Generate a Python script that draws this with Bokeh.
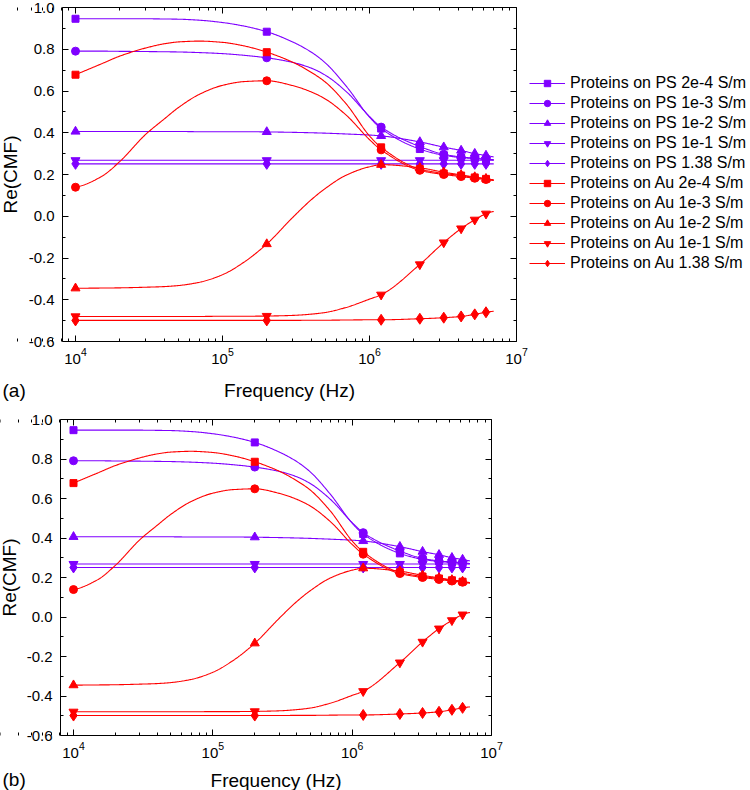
import numpy as np
from bokeh.plotting import figure
from bokeh.models import (LogAxis, LinearAxis, FixedTicker, PrintfTickFormatter,
                          CustomJSTickFormatter, Legend, LegendItem, Label, Range1d)
from bokeh.embed import file_html
from bokeh.resources import INLINE

# ---------------- data ----------------
line_freq = [1e4, 1.5e4, 2e4, 3e4, 4e4, 5e4, 7e4, 1e5, 1.4e5, 2e5, 3e5, 4e5, 5e5,
             7e5, 1e6, 1.2e6, 2.2e6, 3.2e6, 4.2e6, 5.2e6, 6.2e6, 7e6]
# frequencies that carry a marker symbol
marker_freq = [1e4, 2e5, 1.2e6, 2.2e6, 3.2e6, 4.2e6, 5.2e6, 6.2e6]

series_labels = [
    "Proteins on PS 2e-4 S/m", "Proteins on PS 1e-3 S/m", "Proteins on PS 1e-2 S/m",
    "Proteins on PS 1e-1 S/m", "Proteins on PS 1.38 S/m",
    "Proteins on Au 2e-4 S/m", "Proteins on Au 1e-3 S/m", "Proteins on Au 1e-2 S/m",
    "Proteins on Au 1e-1 S/m", "Proteins on Au 1.38 S/m",
]

ps_2e4 = [0.946, 0.946, 0.946, 0.946, 0.945, 0.944, 0.939, 0.928, 0.911, 0.884, 0.835,
          0.787, 0.735, 0.620, 0.475, 0.420, 0.322, 0.292, 0.281, 0.276, 0.272, 0.270]
ps_1e3 = [0.791, 0.791, 0.790, 0.789, 0.788, 0.787, 0.784, 0.779, 0.771, 0.759, 0.737,
          0.710, 0.676, 0.595, 0.478, 0.427, 0.334, 0.297, 0.284, 0.278, 0.273, 0.271]
ps_1e2 = [0.406, 0.406, 0.406, 0.406, 0.406, 0.406, 0.405, 0.405, 0.405, 0.404, 0.402,
          0.400, 0.398, 0.394, 0.389, 0.385, 0.356, 0.331, 0.315, 0.300, 0.291, 0.284]
ps_1e1 = [0.268, 0.268, 0.268, 0.268, 0.268, 0.268, 0.268, 0.268, 0.268, 0.268, 0.268,
          0.268, 0.268, 0.268, 0.268, 0.268, 0.268, 0.268, 0.268, 0.268, 0.268, 0.268]
ps_138 = [0.251, 0.251, 0.251, 0.251, 0.251, 0.251, 0.251, 0.251, 0.251, 0.251, 0.251,
          0.251, 0.251, 0.251, 0.251, 0.251, 0.251, 0.251, 0.251, 0.251, 0.251, 0.251]
au_2e4 = [0.678, 0.730, 0.767, 0.806, 0.826, 0.835, 0.839, 0.833, 0.816, 0.786, 0.738,
          0.690, 0.643, 0.535, 0.385, 0.330, 0.226, 0.205, 0.195, 0.186, 0.179, 0.173]
au_1e3 = [0.139, 0.190, 0.262, 0.392, 0.465, 0.520, 0.585, 0.627, 0.645, 0.649, 0.626,
          0.596, 0.562, 0.482, 0.367, 0.318, 0.220, 0.200, 0.190, 0.182, 0.176, 0.171]
au_1e2 = [-0.345, -0.344, -0.343, -0.340, -0.337, -0.332, -0.316, -0.280, -0.220, -0.133,
          -0.006, 0.078, 0.133, 0.198, 0.237, 0.247, 0.232, 0.211, 0.198, 0.188, 0.180, 0.174]
au_1e1 = [-0.480, -0.480, -0.480, -0.480, -0.480, -0.480, -0.480, -0.479, -0.479, -0.478,
          -0.475, -0.469, -0.461, -0.436, -0.397, -0.376, -0.231, -0.126, -0.059, -0.017,
          0.012, 0.023]
au_138 = [-0.499, -0.499, -0.499, -0.499, -0.499, -0.499, -0.499, -0.499, -0.499, -0.499,
          -0.499, -0.498, -0.498, -0.497, -0.496, -0.496, -0.491, -0.486, -0.480, -0.470,
          -0.460, -0.455]

series_values = [ps_2e4, ps_1e3, ps_1e2, ps_1e1, ps_138,
                 au_2e4, au_1e3, au_1e2, au_1e1, au_138]

x_major_ticks = [1e4, 1e5, 1e6, 1e7]
y_major_ticks = [-0.6, -0.4, -0.2, 0.0, 0.2, 0.4, 0.6, 0.8, 1.0]
y_minor_ticks = [-0.5, -0.3, -0.1, 0.1, 0.3, 0.5, 0.7, 0.9]
Y_MIN, Y_MAX = -0.6, 1.0
X_MAX = 1e7

# ---------------- styles ----------------
PURPLE = "#7F00FF"
RED = "#FF0000"
colors = [PURPLE] * 5 + [RED] * 5
markers = ["square", "circle", "triangle", "inverted_triangle", "diamond"] * 2
msizes = [7, 8, 9, 9, 11] * 2
FONT = "Liberation Sans"

x_minor_ticks = [k * 10.0 ** e for e in range(3, 7) for k in range(2, 10)]


def pchip(x, y, xs):
    x = np.asarray(x, float)
    y = np.asarray(y, float)
    n = len(x)
    h = np.diff(x)
    d = np.diff(y) / h
    m = np.zeros(n)
    for k in range(1, n - 1):
        if d[k - 1] * d[k] > 0:
            w1 = 2 * h[k] + h[k - 1]
            w2 = h[k] + 2 * h[k - 1]
            m[k] = (w1 + w2) / (w1 / d[k - 1] + w2 / d[k])

    def end(h0, h1, d0, d1):
        mm = ((2 * h0 + h1) * d0 - h0 * d1) / (h0 + h1)
        if np.sign(mm) != np.sign(d0):
            return 0.0
        if np.sign(d0) != np.sign(d1) and abs(mm) > abs(3 * d0):
            return 3 * d0
        return mm

    m[0] = end(h[0], h[1], d[0], d[1])
    m[-1] = end(h[-1], h[-2], d[-1], d[-2])
    idx = np.clip(np.searchsorted(x, xs) - 1, 0, n - 2)
    hh = h[idx]
    t = (xs - x[idx]) / hh
    h00 = 2 * t ** 3 - 3 * t ** 2 + 1
    h10 = t ** 3 - 2 * t ** 2 + t
    h01 = -2 * t ** 3 + 3 * t ** 2
    h11 = t ** 3 - t ** 2
    return h00 * y[idx] + h10 * hh * m[idx] + h01 * y[idx + 1] + h11 * hh * m[idx + 1]


def style_axis(ax, labels=True):
    ax.axis_line_color = "black"
    ax.axis_line_width = 1
    ax.major_tick_line_color = "black"
    ax.minor_tick_line_color = "black"
    ax.major_tick_in = 6
    ax.major_tick_out = 0
    ax.minor_tick_in = 3
    ax.minor_tick_out = 0
    ax.major_label_text_font = FONT
    ax.major_label_text_font_size = "15px"
    ax.major_label_text_color = "black"
    ax.axis_label_text_font = FONT
    ax.axis_label_text_font_size = "19px"
    ax.axis_label_text_font_style = "normal"
    ax.axis_label_text_color = "black"
    if not labels:
        ax.formatter = CustomJSTickFormatter(code="return ''")
        ax.major_label_standoff = 0


def make_panel(W, H, dec0_px, dec3_px, top_px, bot_px, frame_left_px, tag, tag_y,
               xlab_standoff, ylab_standoff, with_legend):
    """One panel whose frame fills the canvas; axes sit at fixed locations.
    dec0_px/dec3_px: pixel columns of 10^4 and 10^7; top_px/bot_px: rows of 1.0 / -0.6."""
    ppd = (dec3_px - dec0_px) / 3.0                  # pixels per decade
    ppu = (bot_px - top_px) / (Y_MAX - Y_MIN)         # pixels per unit
    xr = Range1d(10 ** (4 - dec0_px / ppd), 10 ** (4 + (W - dec0_px) / ppd))
    yr = Range1d(Y_MAX - (H - top_px) / ppu, Y_MAX + top_px / ppu)
    x_left = 10 ** (4 - (dec0_px - frame_left_px) / ppd)

    p = figure(width=W, height=H, x_axis_type="log", x_range=xr, y_range=yr,
               x_axis_location=None, y_axis_location=None,
               output_backend="svg", toolbar_location=None, min_border=0)
    p.min_border_left = p.min_border_right = p.min_border_top = p.min_border_bottom = 0
    p.grid.visible = False
    p.outline_line_color = None
    p.background_fill_color = "white"
    p.border_fill_color = "white"

    xt = FixedTicker(ticks=x_major_ticks, minor_ticks=x_minor_ticks)
    yt = FixedTicker(ticks=y_major_ticks, minor_ticks=y_minor_ticks)

    bottom = LogAxis(ticker=xt, fixed_location=Y_MIN, bounds=(x_left, X_MAX),
                     axis_label="Frequency (Hz)")
    style_axis(bottom)
    bottom.major_label_standoff = 6
    bottom.axis_label_standoff = xlab_standoff

    left = LinearAxis(ticker=yt, fixed_location=x_left, bounds=(Y_MIN, Y_MAX),
                      formatter=PrintfTickFormatter(format="%.1f"), axis_label="Re(CMF)")
    style_axis(left)
    left.major_label_standoff = 8
    left.axis_label_standoff = ylab_standoff

    top = LogAxis(ticker=xt, fixed_location=Y_MAX, bounds=(x_left, X_MAX))
    right = LinearAxis(ticker=yt, fixed_location=X_MAX, bounds=(Y_MIN, Y_MAX))
    style_axis(top, labels=False)
    style_axis(right, labels=False)

    p.add_layout(bottom, "below")
    p.add_layout(left, "left")
    p.add_layout(top, "above")
    p.add_layout(right, "right")

    lx = np.log10(line_freq)
    xs = np.linspace(lx[0], lx[-1], 500)
    pos = {f: i for i, f in enumerate(line_freq)}
    items = []
    for name, vals, c, m, s in zip(series_labels, series_values, colors, markers, msizes):
        ys = pchip(lx, vals, xs)
        lr = p.line(10 ** xs, ys, line_color=c, line_width=1.1)
        mv = [vals[pos[f]] for f in marker_freq]
        sr = p.scatter(marker_freq, mv, marker=m, size=s, fill_color=c, line_color=c)
        items.append(LegendItem(label=name, renderers=[lr, sr]))

    if with_legend:
        leg = Legend(items=items, location=(529, H - 273))
        leg.label_text_font = FONT
        leg.label_text_font_size = "16px"
        leg.label_text_color = "black"
        leg.glyph_width = 36
        leg.glyph_height = 16
        leg.label_height = 20
        leg.label_standoff = 5
        leg.spacing = 0
        leg.padding = 0
        leg.margin = 0
        leg.border_line_color = None
        leg.background_fill_alpha = 0
        p.add_layout(leg, "center")

    p.add_layout(Label(x=2, y=H - tag_y, x_units="screen", y_units="screen", text=tag,
                       text_font=FONT, text_font_size="19px", text_color="black",
                       text_baseline="middle"))
    return p


# panel (a): canvas rows 0..405 ; panel (b): canvas rows 405..790 (local coordinates)
pa = make_panel(750, 405, 75, 516, 7, 341, 62, "(a)", 390, 13, 5, True)
pb = make_panel(750, 385, 73, 491, 14, 330, 60, "(b)", 374, 9, 4, False)

open("out.html", "w").write(file_html([pa, pb], INLINE))
